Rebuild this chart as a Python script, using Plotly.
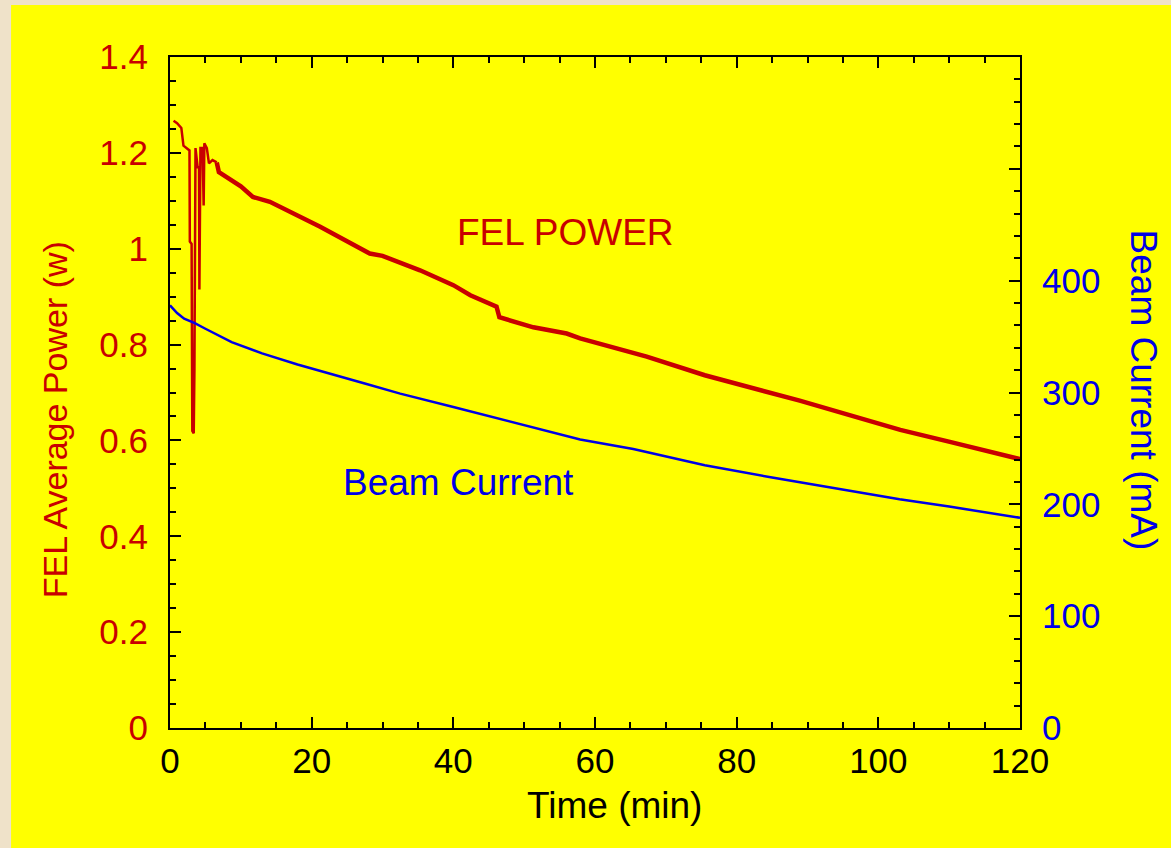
import plotly.graph_objects as go

# FEL power (W) vs time (min)
fel_time = [0.5, 1.0, 1.6, 1.9, 2.75, 2.8, 3.05, 3.15, 3.35, 3.45, 3.6, 3.9, 4.1, 4.15, 4.3,
            4.6, 4.75, 4.85, 5.2, 5.5, 6.0, 6.6, 6.9, 10.0, 11.7, 14.1, 15.5, 20.0, 21.2,
            28.2, 30.0, 35.3, 40.0, 42.4, 46.1, 46.5, 48.0, 51.3, 56.0, 57.9, 67.3, 75.5,
            88.9, 93.2, 103.1, 110.1, 120.0]
fel_power = [1.267, 1.262, 1.252, 1.215, 1.205, 1.015, 1.01, 0.62, 0.615, 0.75, 1.21, 1.17,
             1.17, 0.915, 1.21, 1.21, 1.09, 1.22, 1.21, 1.178, 1.185, 1.18, 1.16, 1.13,
             1.108, 1.098, 1.088, 1.056, 1.046, 0.99, 0.985, 0.955, 0.924, 0.903, 0.879,
             0.857, 0.850, 0.836, 0.823, 0.813, 0.775, 0.736, 0.683, 0.665, 0.622, 0.597,
             0.561]

# Beam current (mA) vs time (min)
beam_time = [0, 1, 2, 3.5, 5, 8.7, 13, 18, 27.5, 32.5, 40, 50, 57.9, 65.4, 75.5, 85, 93.2,
             103, 110, 119.5, 120]
beam_current = [378, 371, 366, 362, 357, 345, 335, 325, 308, 299, 287, 271, 258, 249.5, 235,
                224, 215, 204.5, 198, 189, 188]

x_ticks = [0, 20, 40, 60, 80, 100, 120]
y_ticks = [0, 0.2, 0.4, 0.6, 0.8, 1.0, 1.2, 1.4]
y_tick_text = ["0", "0.2", "0.4", "0.6", "0.8", "1", "1.2", "1.4"]
y2_ticks = [0, 100, 200, 300, 400, 500, 600]
y2_tick_text = ["0", "100", "200", "300", "400", "", ""]

RED = "#c80000"
BLUE = "#0000e6"
FONT = "Liberation Sans, Arial, Helvetica, sans-serif"
TICK_SIZE = 35
TITLE_SIZE = 37

# the start-up spikes are drawn thinner than the noisy main trace
split = fel_time.index(6.6)

fig = go.Figure()
fig.add_trace(go.Scatter(x=fel_time[:split + 1], y=fel_power[:split + 1], mode="lines",
                         line=dict(color=RED, width=2.5), yaxis="y", showlegend=False))
fig.add_trace(go.Scatter(x=fel_time[split:], y=fel_power[split:], mode="lines",
                         line=dict(color=RED, width=4.5), yaxis="y", showlegend=False))
fig.add_trace(go.Scatter(x=beam_time, y=beam_current, mode="lines",
                         line=dict(color=BLUE, width=2.5), yaxis="y2", showlegend=False))

fig.update_layout(
    width=1171, height=848,
    margin=dict(l=170, r=151, t=57, b=120),
    paper_bgcolor="#efe2c9",
    plot_bgcolor="#ffff00",
    font=dict(family=FONT, size=TICK_SIZE, color="black"),
    xaxis=dict(range=[0, 120], tickvals=x_ticks, showgrid=False, zeroline=False,
               showline=True, linecolor="black", linewidth=2, mirror="ticks",
               ticks="inside", ticklen=11, tickwidth=2, tickcolor="black",
               minor=dict(dtick=5, ticks="inside", ticklen=6, tickwidth=2, tickcolor="black"),
               tickfont=dict(size=TICK_SIZE, color="black"), ticklabelstandoff=1),
    yaxis=dict(range=[0, 1.4], tickvals=y_ticks, ticktext=y_tick_text, showgrid=False,
               zeroline=False, showline=True, linecolor="black", linewidth=2,
               ticks="inside", ticklen=11, tickwidth=2, tickcolor="black",
               minor=dict(dtick=0.05, ticks="inside", ticklen=6, tickwidth=2, tickcolor="black"),
               tickfont=dict(size=TICK_SIZE, color=RED), ticklabelstandoff=13),
    yaxis2=dict(range=[0, 600], tickvals=y2_ticks, ticktext=y2_tick_text, overlaying="y",
                side="right", showgrid=False, zeroline=False, showline=True,
                linecolor="black", linewidth=2, ticks="inside", ticklen=11, tickwidth=2,
                tickcolor="black",
                minor=dict(dtick=20, ticks="inside", ticklen=6, tickwidth=2, tickcolor="black"),
                tickfont=dict(size=TICK_SIZE, color=BLUE), ticklabelstandoff=13),
    shapes=[dict(type="rect", xref="paper", yref="paper", x0=-0.187, x1=1.2, y0=-0.2,
                 y1=1.0775, fillcolor="#ffff00", line=dict(width=0), layer="below")],
    annotations=[
        dict(text="FEL Average Power (w)", xref="paper", yref="paper", x=-0.135, y=0.459,
             xanchor="center", yanchor="middle",
             textangle=-90, showarrow=False, font=dict(size=34, color=RED)),
        dict(text="Beam Current (mA)", xref="paper", yref="paper", x=1.145, y=0.504,
             xanchor="center", yanchor="middle",
             textangle=90, showarrow=False, font=dict(size=TITLE_SIZE, color=BLUE)),
        dict(text="Time (min)", xref="paper", yref="paper", x=0.5235, y=-0.1148,
             xanchor="center", yanchor="middle",
             showarrow=False, font=dict(size=TITLE_SIZE, color="black")),
        dict(text="FEL POWER", x=55.8, y=1.033, xref="x", yref="y", showarrow=False,
             xanchor="center", yanchor="middle", font=dict(size=TITLE_SIZE, color=RED)),
        dict(text="Beam Current", x=40.7, y=0.513, xref="x", yref="y", showarrow=False,
             xanchor="center", yanchor="middle", font=dict(size=TITLE_SIZE, color=BLUE)),
    ],
)

fig.write_html("out.html")
